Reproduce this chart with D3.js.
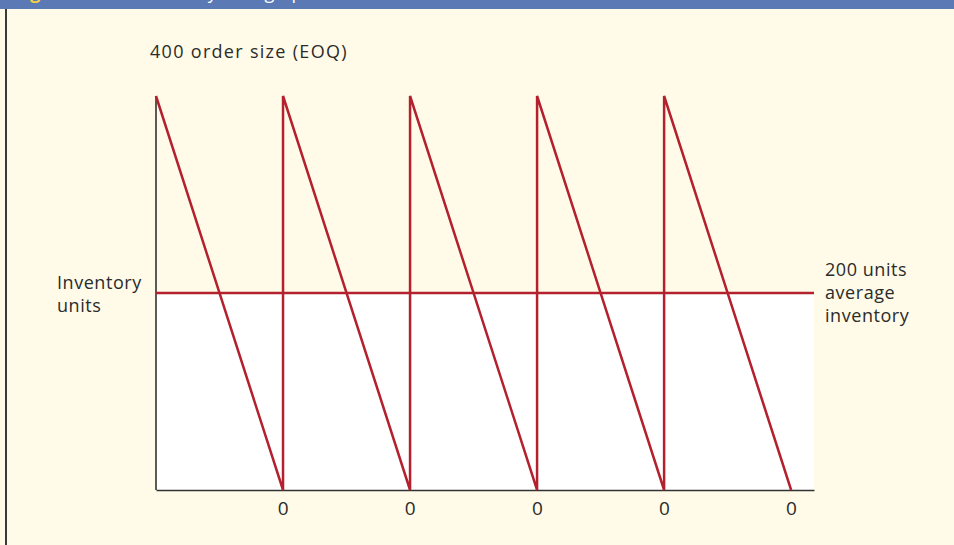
<!DOCTYPE html>
<html>
<head>
<meta charset="utf-8">
<script src="https://cdn.jsdelivr.net/npm/d3@7"></script>
<style>
  html, body { margin: 0; padding: 0; background: #fffbe8; }
  svg { display: block; }
  text { font-family: "Open Sans", "Noto Sans", sans-serif; fill: #2b2b2b; }
  .lab { font-size: 18px; letter-spacing: 0.55px; }
</style>
</head>
<body>
<svg id="chart" width="954" height="545"></svg>
<script>
// Inventory cycle: order arrives at full EOQ, drawn down to zero, reordered.
const orderTimes = [0, 1, 2, 3, 4];          // moments a new order arrives
const stockOutTimes = [1, 2, 3, 4, 5];       // moments stock reaches zero
const orderSize = 400;                        // EOQ
const averageInventory = 200;
const zeroTickLabels = ["0", "0", "0", "0", "0"];
const timeEnd = 5.18;

const svg = d3.select("#chart");
const W = 954, H = 545;

// page background, header band and left rule
svg.append("rect").attr("x", 0).attr("y", 0).attr("width", W).attr("height", H)
  .attr("fill", "#fffbe8");
const header = svg.append("g");
header.append("rect").attr("x", 0).attr("y", 0).attr("width", W).attr("height", 9)
  .attr("fill", "#5b79b4");
header.append("text").attr("x", 15).attr("y", -1)
  .style("fill", "#f5d33a").style("font-weight", "700").style("font-size", "18px")
  .text("Figure 7-8");
header.append("text").attr("x", 137).attr("y", -1)
  .style("fill", "#ffffff").style("font-size", "18px")
  .text("Inventory level graph");
svg.append("rect").attr("x", 5).attr("y", 9).attr("width", 2).attr("height", H - 9)
  .attr("fill", "#3a3a3a");

const x = d3.scaleLinear().domain([0, timeEnd]).range([156, 814]);
const y = d3.scaleLinear().domain([0, orderSize]).range([490, 96]);

const red = "#b3202e";

// white area beneath the average-inventory line
svg.append("rect")
  .attr("x", x(0)).attr("y", y(averageInventory))
  .attr("width", x(timeEnd) - x(0))
  .attr("height", y(0) - y(averageInventory))
  .attr("fill", "#ffffff");

// axes (no ticks)
const gx = svg.append("g").attr("transform", `translate(0,${y(0)})`)
  .call(d3.axisBottom(x).tickValues(stockOutTimes).tickSize(0)
        .tickFormat((d, i) => zeroTickLabels[i]));
gx.select(".domain").attr("stroke", "#333").attr("stroke-width", 1.6);
gx.selectAll(".tick text").attr("y", 25).attr("dy", 0).attr("class", "lab")
  .style("font-family", "'Open Sans', sans-serif").style("font-size", "19px")
  .attr("fill", "#2b2b2b");

svg.append("line")
  .attr("x1", x(0)).attr("x2", x(0))
  .attr("y1", y(0)).attr("y2", y(orderSize))
  .attr("stroke", "#333").attr("stroke-width", 1.6);

// average inventory line
svg.append("line")
  .attr("x1", x(0)).attr("x2", x(timeEnd))
  .attr("y1", y(averageInventory)).attr("y2", y(averageInventory))
  .attr("stroke", red).attr("stroke-width", 2.5);

// sawtooth usage lines
const saw = [];
orderTimes.forEach((t, i) => {
  saw.push([t, orderSize]);
  saw.push([stockOutTimes[i], 0]);
});
svg.append("path")
  .datum(saw)
  .attr("fill", "none")
  .attr("stroke", red)
  .attr("stroke-width", 2.5)
  .attr("stroke-linejoin", "miter")
  .attr("d", d3.line().x(d => x(d[0])).y(d => y(d[1])));

// labels
svg.append("text").attr("class", "lab").attr("x", 150).attr("y", 58)
  .style("letter-spacing", "1.3px")
  .text("400 order size (EOQ)");

const leftLab = svg.append("text").attr("class", "lab").attr("x", 57).attr("y", 289);
leftLab.append("tspan").attr("x", 57).text("Inventory");
leftLab.append("tspan").attr("x", 57).attr("dy", 23).text("units");

const rightLab = svg.append("text").attr("class", "lab").attr("x", 825).attr("y", 276);
["200 units", "average", "inventory"].forEach((s, i) => {
  rightLab.append("tspan").attr("x", 825).attr("dy", i ? 23 : 0).text(s);
});
</script>
</body>
</html>
